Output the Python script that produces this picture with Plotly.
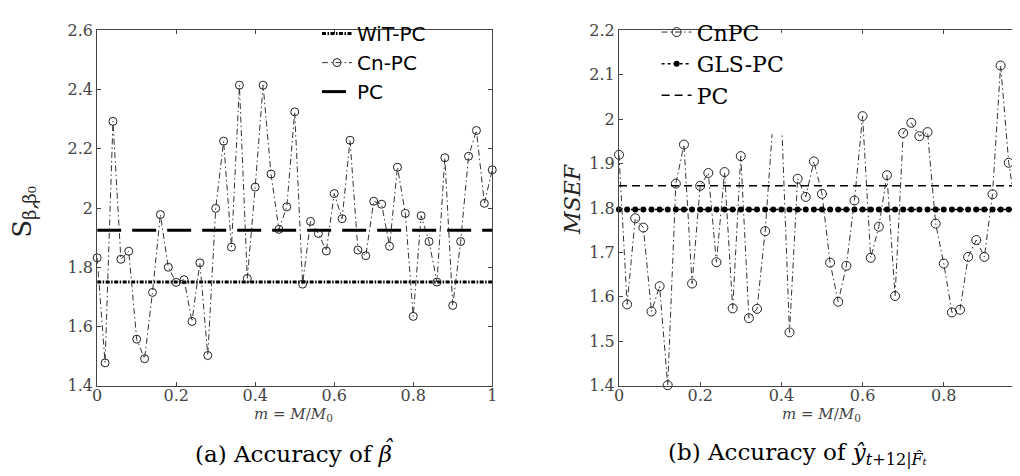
import plotly.graph_objects as go

# ---------------- data ----------------
m_values = [0.00, 0.02, 0.04, 0.06, 0.08, 0.10, 0.12, 0.14, 0.16, 0.18,
            0.20, 0.22, 0.24, 0.26, 0.28, 0.30, 0.32, 0.34, 0.36, 0.38,
            0.40, 0.42, 0.44, 0.46, 0.48, 0.50, 0.52, 0.54, 0.56, 0.58,
            0.60, 0.62, 0.64, 0.66, 0.68, 0.70, 0.72, 0.74, 0.76, 0.78,
            0.80, 0.82, 0.84, 0.86, 0.88, 0.90, 0.92, 0.94, 0.96, 0.98, 1.00]

# (a) accuracy of beta-hat
cn_pc_a = [1.832, 1.477, 2.293, 1.827, 1.854, 1.557, 1.491, 1.715, 1.978, 1.800,
           1.749, 1.758, 1.617, 1.815, 1.502, 1.999, 2.226, 1.868, 2.415, 1.762,
           2.071, 2.415, 2.115, 1.928, 2.004, 2.325, 1.743, 1.955, 1.914, 1.855,
           2.049, 1.964, 2.229, 1.858, 1.839, 2.023, 2.013, 1.871, 2.138, 1.982,
           1.634, 1.974, 1.887, 1.750, 2.170, 1.671, 1.887, 2.175, 2.262, 2.016, 2.129]
wit_pc_a_value = 1.750
pc_a_value = 1.925

# (b) accuracy of y-hat
cn_pc_b = [1.920, 1.583, 1.777, 1.756, 1.567, 1.624, 1.401, 1.855, 1.943, 1.630,
           1.850, 1.879, 1.678, 1.881, 1.574, 1.917, 1.552, 1.573, 1.748, 2.003,
           2.010, 1.520, 1.866, 1.825, 1.905, 1.832, 1.677, 1.589, 1.670, 1.817,
           2.007, 1.688, 1.758, 1.874, 1.602, 1.969, 1.992, 1.962, 1.971, 1.765,
           1.675, 1.565, 1.571, 1.690, 1.728, 1.690, 1.831, 2.121, 1.902, 1.781, 1.870]
gls_pc_b_value = 1.797
pc_b_value = 1.850

x_ticks = [0, 0.2, 0.4, 0.6, 0.8, 1]
x_ticktext = ["0", "0.2", "0.4", "0.6", "0.8", "1"]
ya_ticks = [1.4, 1.6, 1.8, 2.0, 2.2, 2.4, 2.6]
ya_ticktext = ["1.4", "1.6", "1.8", "2", "2.2", "2.4", "2.6"]
yb_ticks = [1.4, 1.5, 1.6, 1.7, 1.8, 1.9, 2.0, 2.1, 2.2]
yb_ticktext = ["1.4", "1.5", "1.6", "1.7", "1.8", "1.9", "2", "2.1", "2.2"]

W, H = 1020, 476
def px(x):
    return x / W
def py(y):
    return 1 - y / H

SERIF = "DejaVu Serif"
TICK_FONT = dict(family=SERIF, size=16, color="#444")

fig = go.Figure()

# ---------- left panel ----------
fig.add_trace(go.Scatter(
    x=[m_values[0], m_values[-1]], y=[wit_pc_a_value, wit_pc_a_value],
    mode="lines", name="WiT-PC", legend="legend",
    line=dict(color="black", width=3, dash="4px,1.5px,1.5px,1.5px"),
    xaxis="x", yaxis="y"))
fig.add_trace(go.Scatter(
    x=m_values, y=cn_pc_a, mode="lines+markers", name="Cn-PC", legend="legend",
    line=dict(color="#333", width=1, dash="6px,3px,1.5px,3px"),
    marker=dict(symbol="circle-open", size=8, color="#222", line=dict(width=1)),
    cliponaxis=False, xaxis="x", yaxis="y"))
fig.add_trace(go.Scatter(
    x=[m_values[0], m_values[-1]], y=[pc_a_value, pc_a_value],
    mode="lines", name="PC", legend="legend",
    line=dict(color="black", width=3, dash="24px,11px"),
    xaxis="x", yaxis="y"))

# ---------- right panel ----------
fig.add_trace(go.Scatter(
    x=m_values, y=cn_pc_b, mode="lines+markers", name="CnPC", legend="legend2",
    line=dict(color="#333", width=1, dash="6px,3px,1.5px,3px"),
    marker=dict(symbol="circle-open", size=9, color="#222", line=dict(width=1)),
    cliponaxis=False, xaxis="x2", yaxis="y2"))
fig.add_trace(go.Scatter(
    x=m_values, y=[gls_pc_b_value] * len(m_values), mode="lines+markers",
    name="GLS-PC", legend="legend2",
    line=dict(color="black", width=1.5, dash="dot"),
    marker=dict(symbol="circle", size=6, color="black"),
    cliponaxis=False, xaxis="x2", yaxis="y2"))
fig.add_trace(go.Scatter(
    x=[m_values[0], m_values[-1]], y=[pc_b_value, pc_b_value],
    mode="lines", name="PC", legend="legend2",
    line=dict(color="black", width=1.5, dash="8px,5px"),
    xaxis="x2", yaxis="y2"))

axis_common = dict(showgrid=False, zeroline=False, showline=True,
                   linecolor="#444", linewidth=1, ticks="inside", ticklen=4,
                   tickcolor="#444", tickfont=TICK_FONT, mirror="ticks")

fig.update_layout(
    width=W, height=H,
    margin=dict(l=0, r=0, t=0, b=0),
    paper_bgcolor="white", plot_bgcolor="white",
    xaxis=dict(domain=[px(85), px(484)], range=[0, 1], tickvals=x_ticks,
               ticktext=x_ticktext, anchor="y", ticklabelstandoff=-5, **axis_common),
    yaxis=dict(domain=[py(384), py(14)], range=[1.4, 2.6], tickvals=ya_ticks,
               ticktext=ya_ticktext, anchor="x", **axis_common),
    xaxis2=dict(domain=[px(612), 1.0], range=[0, (W - 612) / 410], tickvals=x_ticks,
                ticktext=x_ticktext, anchor="y2", ticklabelstandoff=-5, **axis_common),
    yaxis2=dict(domain=[py(384), py(14)], range=[1.4, 2.2], tickvals=yb_ticks,
                ticktext=yb_ticktext, anchor="x2", **axis_common),
    legend=dict(x=px(307), y=py(-3), xanchor="left", yanchor="top",
                bgcolor="rgba(255,255,255,0)", borderwidth=0,
                font=dict(family="DejaVu Sans", size=20, color="black"),
                tracegroupgap=0, itemwidth=30),
    legend2=dict(x=px(650), y=py(-6), xanchor="left", yanchor="top",
                 bgcolor="rgba(255,255,255,0)", borderwidth=0,
                 font=dict(family=SERIF, size=22, color="black"),
                 tracegroupgap=0, itemwidth=30),
    showlegend=True,
)

# white legend background of the right panel (covers the lines behind it)
fig.add_shape(type="rect", xref="x2", yref="y2", x0=0.06, x1=0.55, y0=1.966, y1=2.195,
              fillcolor="white", line=dict(width=0), layer="above")

annotations = [
    dict(text="S<sub>β,β₀</sub>", x=px(11), y=py(203), textangle=-90,
         font=dict(family=SERIF, size=26, color="#222")),
    dict(text="ˆ", x=px(27), y=py(195), textangle=-90,
         font=dict(family=SERIF, size=16, color="#222")),
    dict(text="<i>MSEF</i>", x=px(565), y=py(190), textangle=-90,
         font=dict(family=SERIF, size=22, color="#222")),
    dict(text="<i>m</i> = <i>M</i>/<i>M</i><sub>0</sub>", x=px(283), y=py(414),
         font=dict(family=SERIF, size=15, color="#444")),
    dict(text="<i>m</i> = <i>M</i>/<i>M</i><sub>0</sub>", x=px(817), y=py(414),
         font=dict(family=SERIF, size=15, color="#444")),
    dict(text="(a) Accuracy of <i>β</i>", x=px(283), y=py(455),
         font=dict(family=SERIF, size=23, color="black")),
    dict(text="<i>ˆ</i>", x=px(379), y=py(449),
         font=dict(family=SERIF, size=23, color="black")),
    dict(text="(b) Accuracy of <i>ŷ</i><sub><i>t</i>+12|<i>F̂ₜ</i></sub>", x=px(792), y=py(455),
         font=dict(family=SERIF, size=23, color="black")),
]
for a in annotations:
    fig.add_annotation(xref="paper", yref="paper", showarrow=False,
                       xanchor="center", yanchor="middle", **a)

fig.write_html("out.html")
